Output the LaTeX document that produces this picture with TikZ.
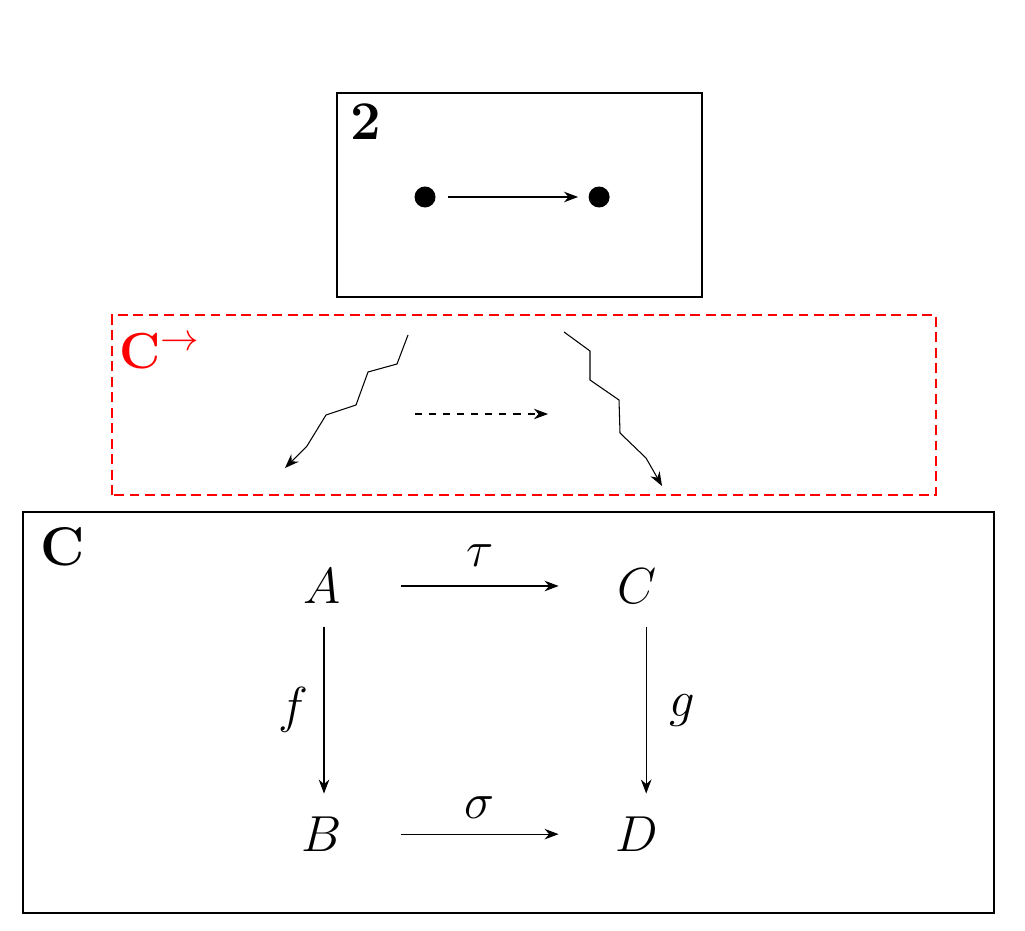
\documentclass[tikz,border=0pt]{standalone}
\usepackage{amsmath}
\usetikzlibrary{arrows.meta}
\newcommand{\picfont}{\fontsize{15.5}{18.5}\selectfont}
\begin{document}
\begin{tikzpicture}[x=0.01cm, y=0.01cm, node distance=3.15cm, font=\picfont, line width=0.3pt]
                \tikzset{ obj/.style={minimum width=1.56cm,minimum height=0.8cm,inner sep=0pt},
                        dot/.style={circle,fill=black,minimum size=0.21cm,inner sep=0pt},
                        tag/.style={anchor=base west,inner sep=0pt,font=\picfont\bfseries},
                        arrow/.style={-{Stealth[length=4pt,width=3pt,inset=1.3pt]}}}
                \useasboundingbox (0,0) rectangle (1025,930);

                % la categorie 2
                \draw (337,633) rectangle (702,837);
                \node[tag] (two) at (350,790) {2};
                \node[dot] (p0) at (425,733) {};
                \node[dot, right of = p0, xshift=-1.41cm] (p1) {};
                \draw[arrow, shorten <=0.12cm, shorten >=0.1cm] (p0) -- (p1);

                % la categorie des fleches
                \draw[red, dash pattern=on 2.8pt off 1.6pt] (112,435) rectangle (936,615);
                \node[tag, text=red] (arr) at (119,561) {$\mathbf{C}^{\to}$};
                \coordinate (zl) at (408,595);
                \coordinate (fl) at (285,462);
                \coordinate (zr) at (564,598);
                \coordinate (fr) at (662,444);
                \coordinate (ml) at (415,516);
                \coordinate (mr) at (548,516);
                \draw[arrow] (zl) -- (397,566) -- (368,558) -- (356,525) -- (326,515) -- (307,484) -- (fl);
                \draw[arrow] (zr) -- (590,579) -- (590,550) -- (619,530) -- (620,497) -- (646,472) -- (fr);
                \draw[arrow, dash pattern=on 2pt off 2pt] (ml) -- (mr);

                % la categorie C
                \draw (23,17) rectangle (994,418);
                \node[tag] (cat) at (40,365) {C};
                \node[obj] (A) at (322,344) {$A$};
                \node[obj, right of = A] (C) {$C$};
                \node[obj, below of = A, yshift=0.67cm] (B) {$B$};
                \node[obj, right of = B] (D) {$D$};

                % Flèches
                \draw[arrow] (A) -- node[above=2pt] {$\tau$} (C);
                \draw[arrow] (B) -- node[above=1pt] {$\sigma$} (D);
                \draw[arrow, transform canvas={xshift=0.02cm}] (A) -- node[left=1pt] {$f$} (B);
                \draw[arrow, transform canvas={xshift=0.09cm}] (C) -- node[right=3pt] {$g$} (D);

            \end{tikzpicture}
\end{document}
